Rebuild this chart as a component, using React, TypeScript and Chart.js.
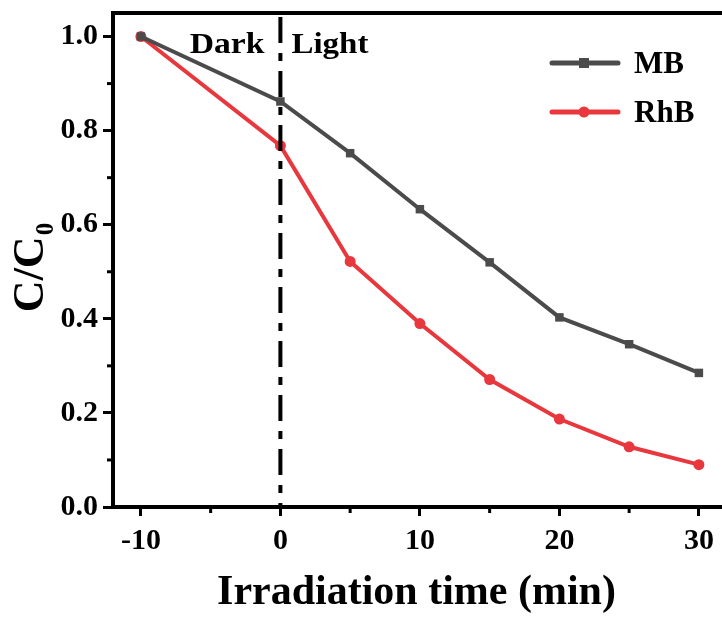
import React, { useEffect, useRef } from 'react';
import { Chart, registerables } from 'chart.js';
Chart.register(...registerables);

const times = [-10, 0, 5, 10, 15, 20, 25, 30];
const mbValues = [1.0, 0.862, 0.752, 0.633, 0.52, 0.403, 0.346, 0.285];
const rhbValues = [1.0, 0.768, 0.522, 0.39, 0.271, 0.187, 0.128, 0.09];
const xTicks = [-10, 0, 10, 20, 30];
const xMinorTicks = [-5, 5, 15, 25];
const yTicks = [0, 0.2, 0.4, 0.6, 0.8, 1.0];
const yMinorTicks = [0.1, 0.3, 0.5, 0.7, 0.9];
const seriesNames = ['MB', 'RhB'];
const seriesColors = ['#4b4b4b', '#e8383d'];
const seriesMarkers = ['rect', 'circle'];
const xTitle = 'Irradiation time (min)';
const phaseLabels = ['Dark', 'Light'];

const FONT = '"Liberation Serif", "Times New Roman", serif';

const decorPlugin = {
  id: 'decor',
  afterDraw(chart: any) {
    const { ctx, chartArea, scales } = chart;
    const xs = scales.x;
    const ys = scales.y;
    ctx.save();
    // top and right frame
    ctx.strokeStyle = '#000';
    ctx.lineWidth = 4;
    ctx.beginPath();
    ctx.moveTo(chartArea.left - 2, chartArea.top);
    ctx.lineTo(chartArea.right, chartArea.top);
    ctx.lineTo(chartArea.right, chartArea.bottom);
    ctx.stroke();
    // minor ticks
    ctx.lineWidth = 3;
    xMinorTicks.forEach((v) => {
      const px = xs.getPixelForValue(v);
      ctx.beginPath();
      ctx.moveTo(px, chartArea.bottom);
      ctx.lineTo(px, chartArea.bottom + 6);
      ctx.stroke();
    });
    yMinorTicks.forEach((v) => {
      const py = ys.getPixelForValue(v);
      ctx.beginPath();
      ctx.moveTo(chartArea.left, py);
      ctx.lineTo(chartArea.left - 6, py);
      ctx.stroke();
    });
    // dash-dot divider at t = 0
    const x0 = xs.getPixelForValue(0);
    ctx.lineWidth = 4;
    ctx.setLineDash([26, 10, 8, 10]);
    ctx.beginPath();
    ctx.moveTo(x0, chartArea.top + 4);
    ctx.lineTo(x0, chartArea.bottom);
    ctx.stroke();
    ctx.setLineDash([]);
    // Dark / Light labels (slightly wide, like the reference)
    ctx.fillStyle = '#000';
    ctx.font = `bold 30px ${FONT}`;
    ctx.textBaseline = 'alphabetic';
    ctx.save();
    ctx.translate(x0 - 16, 53);
    ctx.scale(1.12, 1);
    ctx.textAlign = 'right';
    ctx.fillText(phaseLabels[0], 0, 0);
    ctx.restore();
    ctx.save();
    ctx.translate(x0 + 11, 53);
    ctx.scale(1.1, 1);
    ctx.textAlign = 'left';
    ctx.fillText(phaseLabels[1], 0, 0);
    ctx.restore();
    // legend
    const legendY = [63, 112];
    seriesNames.forEach((name, i) => {
      const y = legendY[i];
      ctx.strokeStyle = seriesColors[i];
      ctx.lineWidth = 5;
      ctx.lineCap = 'round';
      ctx.beginPath();
      ctx.moveTo(552, y);
      ctx.lineTo(618, y);
      ctx.stroke();
      ctx.lineCap = 'butt';
      ctx.fillStyle = seriesColors[i];
      if (seriesMarkers[i] === 'rect') {
        ctx.fillRect(579, y - 5, 10, 10);
      } else {
        ctx.beginPath();
        ctx.arc(584, y, 5.5, 0, Math.PI * 2);
        ctx.fill();
      }
      ctx.fillStyle = '#000';
      ctx.font = `bold 31px ${FONT}`;
      ctx.textAlign = 'left';
      ctx.textBaseline = 'middle';
      ctx.fillText(name, 634, y + 2);
    });
    // x title
    ctx.fillStyle = '#000';
    ctx.font = `bold 42px ${FONT}`;
    ctx.textAlign = 'center';
    ctx.textBaseline = 'alphabetic';
    ctx.fillText(xTitle, (chartArea.left + 724) / 2 - 2, 604);
    // y title C/C0
    ctx.save();
    ctx.translate(43, 268);
    ctx.rotate(-Math.PI / 2);
    ctx.font = `bold 44px ${FONT}`;
    const main = 'C/C';
    const w1 = ctx.measureText(main).width;
    ctx.font = `bold 25px ${FONT}`;
    const w2 = ctx.measureText('0').width;
    const start = -(w1 + w2) / 2;
    ctx.textAlign = 'left';
    ctx.font = `bold 44px ${FONT}`;
    ctx.fillText(main, start, 0);
    ctx.font = `bold 25px ${FONT}`;
    ctx.fillText('0', start + w1 + 1, 10);
    ctx.restore();
    ctx.restore();
  },
};

export default function App() {
  const ref = useRef<HTMLCanvasElement>(null);
  useEffect(() => {
    if (!ref.current) return;
    const chart = new Chart(ref.current, {
      type: 'line',
      data: {
        datasets: [
          {
            label: seriesNames[0],
            data: times.map((t, i) => ({ x: t, y: mbValues[i] })),
            borderColor: seriesColors[0],
            backgroundColor: seriesColors[0],
            borderWidth: 4,
            pointStyle: 'rect',
            pointRadius: 6,
            pointBorderWidth: 0,
            tension: 0,
          },
          {
            label: seriesNames[1],
            data: times.map((t, i) => ({ x: t, y: rhbValues[i] })),
            borderColor: seriesColors[1],
            backgroundColor: seriesColors[1],
            borderWidth: 4,
            pointStyle: 'circle',
            pointRadius: 5.5,
            pointBorderWidth: 0,
            tension: 0,
          },
        ],
      },
      options: {
        animation: false,
        responsive: false,
        maintainAspectRatio: false,
        layout: { padding: { top: 13, right: 6, left: 0, bottom: 0 } },
        plugins: { legend: { display: false }, tooltip: { enabled: false } },
        scales: {
          x: {
            type: 'linear',
            min: -12,
            max: 31.8,
            afterBuildTicks: (s: any) => {
              s.ticks = xTicks.map((v) => ({ value: v }));
            },
            afterFit: (s: any) => {
              s.height = 112;
              s.paddingLeft = 0;
              s.paddingRight = 0;
            },
            border: { display: true, color: '#000', width: 4 },
            grid: { drawOnChartArea: false, color: '#000', tickLength: 9, tickWidth: 3 },
            ticks: {
              color: '#000',
              font: { family: FONT, size: 30, weight: 'bold' },
              padding: 7,
              maxRotation: 0,
              callback: (v: any) => String(v),
            },
          },
          y: {
            type: 'linear',
            min: 0,
            max: 1.05,
            afterBuildTicks: (s: any) => {
              s.ticks = yTicks.map((v) => ({ value: v }));
            },
            afterFit: (s: any) => {
              s.width = 113;
              s.paddingTop = 0;
              s.paddingBottom = 0;
            },
            border: { display: true, color: '#000', width: 4 },
            grid: { drawOnChartArea: false, color: '#000', tickLength: 10, tickWidth: 3 },
            ticks: {
              color: '#000',
              font: { family: FONT, size: 30, weight: 'bold' },
              padding: 5,
              callback: (v: any) => Number(v).toFixed(1),
            },
          },
        },
      },
      plugins: [decorPlugin],
    });
    return () => chart.destroy();
  }, []);
  return (
    <div style={{ position: 'fixed', left: 0, top: 0, width: 722, height: 619, overflow: 'hidden', background: '#fff' }}>
      <canvas ref={ref} width={730} height={619} style={{ display: 'block', width: 730, height: 619 }} />
    </div>
  );
}
